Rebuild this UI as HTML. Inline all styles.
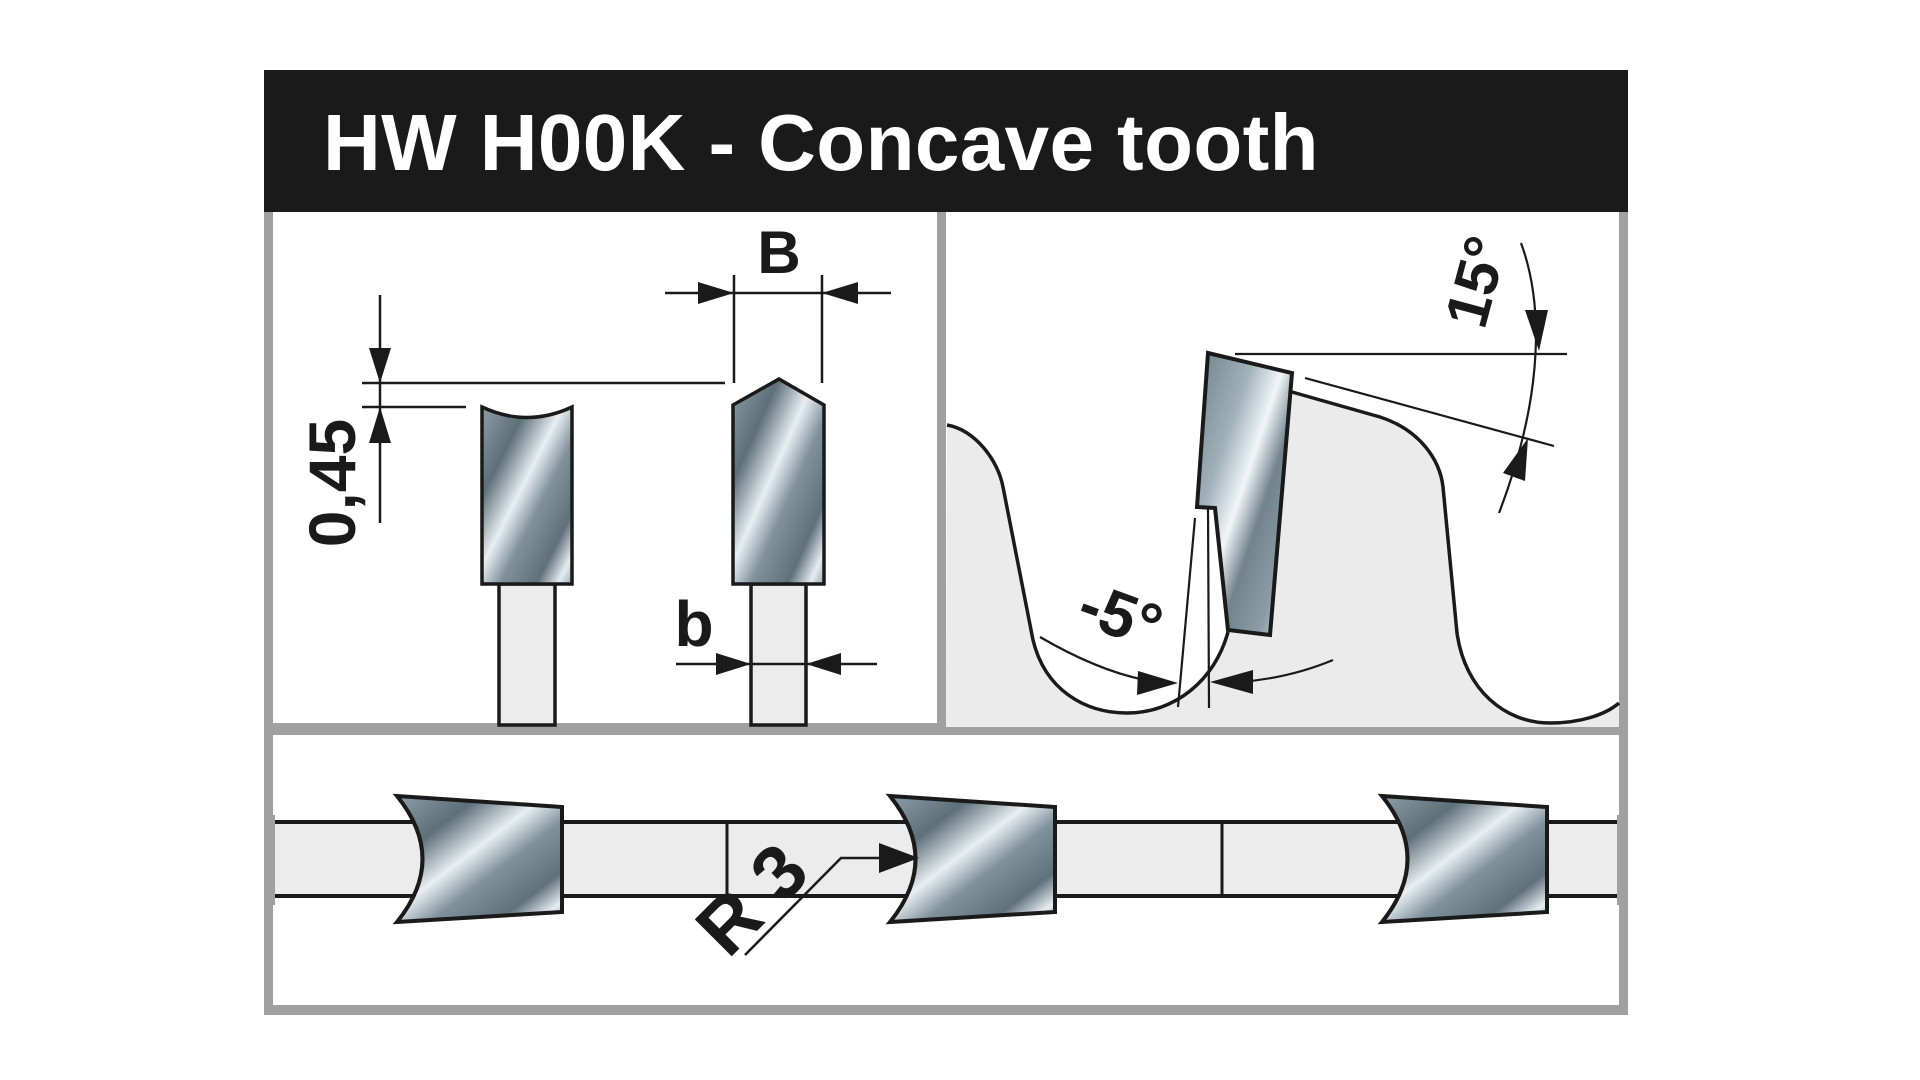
<!DOCTYPE html>
<html><head><meta charset="utf-8"><style>
html,body{margin:0;padding:0;background:#fff;}
svg{display:block;}
text{font-family:"Liberation Sans",Arial,sans-serif;font-weight:bold;}
</style></head><body>
<svg width="1920" height="1080" viewBox="0 0 1920 1080" xmlns="http://www.w3.org/2000/svg">
<defs>
<linearGradient id="m" x1="0" y1="0" x2="1" y2="1">
<stop offset="0" stop-color="#8e9ea7"/>
<stop offset="0.25" stop-color="#5d6f79"/>
<stop offset="0.45" stop-color="#e9eff2"/>
<stop offset="0.6" stop-color="#7f919b"/>
<stop offset="0.8" stop-color="#5f717b"/>
<stop offset="0.92" stop-color="#e6ecef"/>
<stop offset="1" stop-color="#9aabb3"/>
</linearGradient>
<linearGradient id="m2" x1="0" y1="0" x2="1" y2="1">
<stop offset="0" stop-color="#6f818b"/>
<stop offset="0.3" stop-color="#9fb0b8"/>
<stop offset="0.48" stop-color="#f2f6f8"/>
<stop offset="0.62" stop-color="#71838d"/>
<stop offset="0.82" stop-color="#8b9ca5"/>
<stop offset="1" stop-color="#e0e7ea"/>
</linearGradient>
</defs>

<!-- frame -->
<rect x="264" y="70" width="1364" height="945" fill="#a0a0a0"/>
<rect x="273" y="212" width="664" height="511" fill="#fff"/>
<rect x="946" y="212" width="673" height="515" fill="#fff"/>
<rect x="273" y="735" width="1346" height="270" fill="#fff"/>
<rect x="264" y="70" width="1364" height="142" fill="#1a1a1a"/>
<text x="323" y="170" font-size="80" fill="#fff" letter-spacing="0.4">HW H00K - Concave tooth</text>

<!-- LEFT PANEL -->
<g stroke="#1a1a1a" stroke-width="3.5">
<rect x="499" y="584" width="56" height="141" fill="#ececec"/>
<rect x="751" y="584" width="55" height="141" fill="#ececec"/>
<path d="M482,407 L482,584 L572,584 L572,407 Q527,428 482,407 Z" fill="url(#m)"/>
<path d="M733,405 L733,584 L824,584 L824,405 L779,379 Z" fill="url(#m)"/>
</g>
<g stroke="#1a1a1a" stroke-width="2.5" fill="none">
<line x1="362" y1="383" x2="725" y2="383"/>
<line x1="362" y1="407" x2="466" y2="407"/>
<line x1="380" y1="295" x2="380" y2="523"/>
<line x1="734" y1="275" x2="734" y2="383"/>
<line x1="822" y1="275" x2="822" y2="383"/>
<line x1="665" y1="293" x2="891" y2="293"/>
<line x1="676" y1="664" x2="877" y2="664"/>
</g>
<g fill="#1a1a1a">
<polygon points="380,383 369,348 391,348"/>
<polygon points="380,407 369,443 391,443"/>
<polygon points="734,293 698,282 698,304"/>
<polygon points="822,293 858,282 858,304"/>
<polygon points="751,664 716,653 716,675"/>
<polygon points="806,664 841,653 841,675"/>
</g>
<text x="779" y="273" font-size="60" text-anchor="middle" fill="#1a1a1a">B</text>
<text x="694" y="646" font-size="64" text-anchor="middle" fill="#1a1a1a">b</text>
<text transform="translate(355,483) rotate(-90)" font-size="66" text-anchor="middle" fill="#1a1a1a">0,45</text>

<!-- RIGHT PANEL -->
<path d="M947,425 C975,430 998,460 1003,487 L1033,640 C1045,690 1085,713 1127,713 C1175,713 1215,680 1228,632 L1250,480 L1292,392 L1380,417 C1420,430 1440,460 1443,487 L1457,633 C1465,690 1505,723 1550,723 C1580,723 1605,715 1619,703 L1619,727 L946,727 Z" fill="#ebebeb"/>
<g stroke="#1a1a1a" stroke-width="3.5" fill="none">
<path d="M947,425 C975,430 998,460 1003,487 L1033,640 C1045,690 1085,713 1127,713 C1175,713 1215,680 1228,632"/>
<path d="M1292,392 L1380,417 C1420,430 1440,460 1443,487 L1457,633 C1465,690 1505,723 1550,723 C1580,723 1605,715 1619,703"/>
</g>
<path d="M1208,353 L1292,373 L1270,635 L1228,630 L1215,508 L1197,507 Z" fill="url(#m2)" stroke="#1a1a1a" stroke-width="4" stroke-linejoin="miter"/>
<g stroke="#1a1a1a" stroke-width="2.2" fill="none">
<line x1="1195" y1="518" x2="1178" y2="707"/>
<line x1="1208" y1="507" x2="1209" y2="708"/>
<path d="M1040,637 Q1100,672 1150,681"/>
<path d="M1333,660 Q1290,678 1240,682"/>
<line x1="1235" y1="354" x2="1567" y2="354"/>
<line x1="1305" y1="378" x2="1554" y2="446"/>
<path d="M1521,243 C1542,300 1546,390 1499,513"/>
</g>
<g fill="#1a1a1a">
<polygon points="1178,683 1138,671 1137,695"/>
<polygon points="1210,682 1253,670 1253,694"/>
<polygon points="1539,351 1525,310 1548,310"/>
<polygon points="1528,438 1503,473 1525,481"/>
</g>
<text transform="translate(1113,636) rotate(20)" font-size="64" text-anchor="middle" fill="#1a1a1a">-5°</text>
<text transform="translate(1496,287) rotate(-75)" font-size="60" text-anchor="middle" fill="#1a1a1a">15°</text>

<!-- BOTTOM PANEL -->
<rect x="273" y="822" width="1346" height="74" fill="#ececec" stroke="#1a1a1a" stroke-width="4"/>
<rect x="271" y="815" width="4" height="90" fill="#a0a0a0"/>
<rect x="1617" y="815" width="4" height="90" fill="#a0a0a0"/>
<line x1="727" y1="822" x2="727" y2="896" stroke="#1a1a1a" stroke-width="3"/>
<line x1="1222" y1="822" x2="1222" y2="896" stroke="#1a1a1a" stroke-width="3"/>
<g stroke="#1a1a1a" stroke-width="4" fill="url(#m)">
<path d="M397,796 L562,807 L562,912 L397,922 Q448,859 397,796 Z"/>
<path d="M890,796 L1055,807 L1055,912 L890,922 Q941,859 890,796 Z"/>
<path d="M1382,796 L1547,807 L1547,912 L1382,922 Q1433,859 1382,796 Z"/>
</g>
<polyline points="745,955 841,858 880,858" fill="none" stroke="#1a1a1a" stroke-width="2.5"/>
<polygon points="919,858 879,843 879,873" fill="#1a1a1a"/>
<text transform="translate(778,910) rotate(-45)" font-size="76" text-anchor="middle" fill="#1a1a1a" letter-spacing="22">R3</text>
</svg>
</body></html>
